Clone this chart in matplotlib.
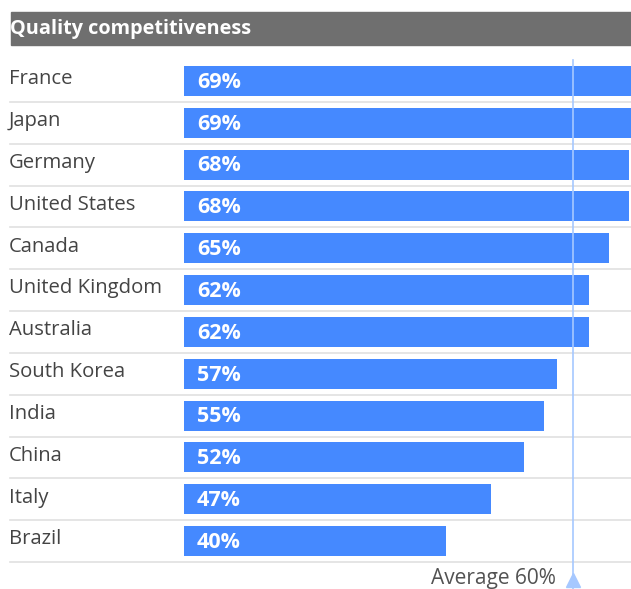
import matplotlib.pyplot as plt
from matplotlib.transforms import blended_transform_factory

countries = ['France', 'Japan', 'Germany', 'United States', 'Canada',
             'United Kingdom', 'Australia', 'South Korea', 'India', 'China',
             'Italy', 'Brazil']
scores = [69, 69, 68, 68, 65, 62, 62, 57, 55, 52, 47, 40]
average = 60

W, H = 631, 589
fig = plt.figure(figsize=(W / 100, H / 100), dpi=100)

# bar area: x 184..631 px, rows 60..562 px
ax = fig.add_axes([184 / W, 1 - 562 / H, (W - 184) / W, (562 - 60) / H])
ax.set_xlim(0, 68.35)
ax.set_ylim(len(countries) - 0.5, -0.5)
ax.axis('off')

rows = list(range(len(countries)))
ax.barh(rows, scores, height=0.72, color='#4589ff', zorder=2)

blend = blended_transform_factory(fig.transFigure, ax.transData)
for i, (name, val) in enumerate(zip(countries, scores)):
    ax.text(9 / W, i - 0.04, name, transform=blend, ha='left', va='center',
            fontsize=14.6, color='#444444', family='Open Sans')
    ax.text(1.95, i + 0.03, f'{val}%', ha='left', va='center', fontsize=15.5,
            fontweight='bold', color='white', family='Open Sans', zorder=3)
    ax.plot([10 / W, 1], [i + 0.5, i + 0.5], transform=blend, color='#e0e0e0',
            lw=1.2, clip_on=False, zorder=1)

# average marker
avg_x = average - 0.5
ax.axvline(avg_x, ymin=-0.06, ymax=1.0, color='#a6c8ff', lw=1.2,
           clip_on=False, zorder=4)
ax.plot([avg_x], [len(countries) - 0.5 + 0.42], marker='^', ms=10,
        color='#a6c8ff', clip_on=False, zorder=4)
ax.text(avg_x - 2.6, len(countries) - 0.5 + 0.4, f'Average {average}%',
        ha='right', va='center', fontsize=15, color='#525252', family='Open Sans')

# title band
fig.patches.append(plt.Rectangle((11 / W, 1 - 45 / H), (W - 11) / W, 33 / H,
                                 transform=fig.transFigure, color='#6f6f6f'))
fig.text(10 / W, 1 - 29 / H, 'Quality competitiveness', ha='left', va='center',
         fontsize=14.3, fontweight='bold', color='white', family='Open Sans')

fig.savefig('out.png', dpi=100)
